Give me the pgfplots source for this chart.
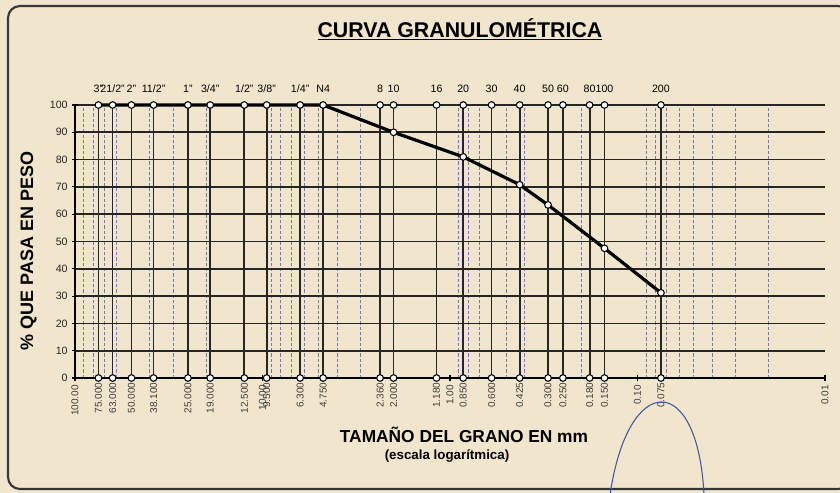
\documentclass[border=0pt]{standalone}
\usepackage{fontspec}
\setmainfont{Liberation Sans}
\usepackage{pgfplots}
\pgfplotsset{compat=1.18}
\definecolor{paper}{RGB}{241,230,205}
\definecolor{framec}{RGB}{55,55,55}
\definecolor{dgrid}{RGB}{110,125,170}
\definecolor{tickc}{RGB}{60,60,60}
\definecolor{pen}{RGB}{60,90,160}
\begin{document}
\begin{tikzpicture}
\useasboundingbox (0,0) rectangle (630pt,369.75pt);
\fill[paper] (0,0) rectangle (630pt,369.75pt);
\draw[framec, line width=1.6pt, rounded corners=9pt] (6pt,3pt) rectangle (637.5pt,365.25pt);
\begin{axis}[
  at={(56.25pt,86.25pt)}, anchor=south west,
  scale only axis, width=562.5pt, height=204.75pt,
  xmode=log, x dir=reverse,
  xmin=0.01, xmax=100, ymin=0, ymax=100,
  axis x line*=bottom, axis y line*=left,
  axis line style={black, line width=1.3pt, -},
  clip=false,
  ytick={0,10,...,100},
  ymajorgrids=true,
  xmajorgrids=false,
  major grid style={black!85, line width=1.3pt},
  xtick={100,10,1,0.1,0.01},
  xticklabels={100.00,10.00,1.00,0.10,0.01},
  minor xtick={90,80,70,60,50,40,30,20,9,8,7,6,5,4,3,2,0.9,0.8,0.7,0.6,0.5,0.4,0.3,0.2,0.09,0.08,0.07,0.06,0.05,0.04,0.03,0.02},
  xminorgrids=true,
  minor grid style={dgrid, line width=0.8pt, dash pattern=on 2.5pt off 1.5pt},
  minor tick length=0pt,
  major tick length=4pt,
  tick align=center,
  tick style={black, line width=0.8pt},
  yticklabel style={font=\fontsize{8}{9}\selectfont, color=black!85},
  xticklabel style={rotate=90, anchor=east, font=\fontsize{7.5}{8}\selectfont, color=tickc},
  /pgf/number format/assume math mode=true,
  extra x ticks={75,63,50,38.1,25,19,12.5,9.5,6.3,4.75,2.36,2.0,1.18,0.85,0.6,0.425,0.3,0.25,0.18,0.15,0.075},
  extra x tick labels={75.000,63.000,50.000,38.100,25.000,19.000,12.500,9.500,6.300,4.750,2.360,2.000,1.180,0.850,0.600,0.425,0.300,0.250,0.180,0.150,0.075},
  extra x tick style={grid=major, major grid style={black!85, line width=1.3pt}, major tick length=0pt},
]
\addplot[black, line width=2.4pt] coordinates {
(75,100)(63,100)(50,100)(38.1,100)(25,100)(19,100)(12.5,100)(9.5,100)(6.3,100)(4.75,100)
(2.0,90)(0.85,81)(0.425,70.8)(0.3,63.4)(0.15,47.5)(0.075,31.2)};
\addplot[only marks, mark=*, mark size=2.5pt, mark options={fill=white, draw=black, line width=0.8pt}] coordinates {
(75,0)(63,0)(50,0)(38.1,0)(25,0)(19,0)(12.5,0)(9.5,0)(6.3,0)(4.75,0)(2.36,0)(2.0,0)(1.18,0)(0.85,0)(0.6,0)(0.425,0)(0.3,0)(0.25,0)(0.18,0)(0.15,0)(0.075,0)};
\addplot[only marks, mark=*, mark size=2.5pt, mark options={fill=white, draw=black, line width=0.8pt}] coordinates {
(75,100)(63,100)(50,100)(38.1,100)(25,100)(19,100)(12.5,100)(9.5,100)(6.3,100)(4.75,100)(2.36,100)(2.0,100)(1.18,100)(0.85,100)(0.6,100)(0.425,100)(0.3,100)(0.25,100)(0.18,100)(0.15,100)(0.075,100)};
\addplot[only marks, mark=*, mark size=2.5pt, mark options={fill=white, draw=black, line width=0.8pt}] coordinates {
(2.0,90)(0.85,81)(0.425,70.8)(0.3,63.4)(0.15,47.5)(0.075,31.2)};
\begin{scope}[every node/.style={font=\fontsize{8}{9}\selectfont, anchor=base, yshift=9.5pt, inner sep=0pt}]
\node at (axis cs:75,100) {3"};
\node at (axis cs:63,100) {21/2"};
\node at (axis cs:50,100) {2"};
\node at (axis cs:38.1,100) {11/2"};
\node at (axis cs:25,100) {1"};
\node at (axis cs:19,100) {3/4"};
\node at (axis cs:12.5,100) {1/2"};
\node at (axis cs:9.5,100) {3/8"};
\node at (axis cs:6.3,100) {1/4"};
\node at (axis cs:4.75,100) {N4};
\node at (axis cs:2.36,100) {8};
\node at (axis cs:2.0,100) {10};
\node at (axis cs:1.18,100) {16};
\node at (axis cs:0.85,100) {20};
\node at (axis cs:0.6,100) {30};
\node at (axis cs:0.425,100) {40};
\node at (axis cs:0.3,100) {50};
\node at (axis cs:0.25,100) {60};
\node at (axis cs:0.18,100) {80};
\node at (axis cs:0.15,100) {100};
\node at (axis cs:0.075,100) {200};
\end{scope}
\end{axis}
\node[font=\bfseries\fontsize{16}{18}\selectfont] at (345pt,348pt) {\underline{CURVA GRANULOMÉTRICA}};
\node[rotate=90, font=\bfseries\fontsize{13.5}{15}\selectfont] at (21.4pt,181.5pt) {\% QUE PASA EN PESO};
\node[font=\bfseries\fontsize{13}{15}\selectfont] at (348pt,43.5pt) {TAMAÑO DEL GRANO EN mm};
\node[font=\bfseries\fontsize{10}{12}\selectfont] at (335.25pt,27.75pt) {(escala logarítmica)};
\draw[pen, line width=0.8pt] (457.5pt,-1.5pt) .. controls (471pt,91.5pt) and (523.5pt,91.5pt) .. (528pt,-1.5pt);
\end{tikzpicture}
\end{document}
